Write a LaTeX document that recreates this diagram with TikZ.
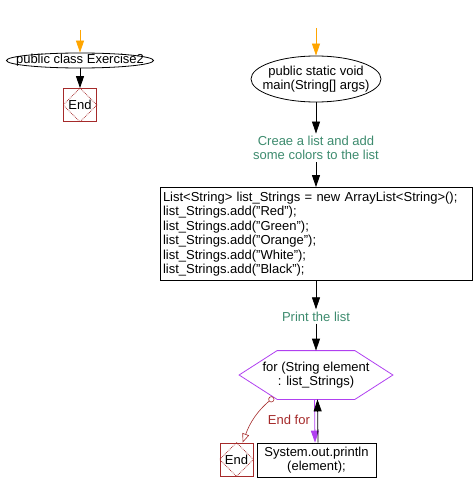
\documentclass[tikz,border=0pt]{standalone}
\usepackage{fontspec}
\setmainfont{Liberation Sans}
\usetikzlibrary{arrows.meta,shapes.geometric}
\definecolor{startorange}{HTML}{FFA500}
\definecolor{notegreen}{HTML}{3D8B6E}
\definecolor{endred}{HTML}{A52A2A}
\definecolor{loopviolet}{HTML}{B040F0}

\begin{document}
\begin{tikzpicture}[x=1pt,y=-1pt,line width=0.8pt,
	every node/.style={font=\fontsize{13}{14.5}\selectfont},
	startnode/.style={ellipse,draw,inner sep=0pt},
	endnode/.style={draw=endred,minimum size=33pt,inner sep=0pt},
	stmtnode/.style={draw,inner sep=3pt},
	notenode/.style={text=notegreen,align=center,inner sep=2pt},
	loopnode/.style={minimum width=153pt,minimum height=48pt,inner sep=0pt,align=center},
	flow/.style={-{Triangle[width=8pt,length=12pt]}},
	]
	\useasboundingbox (0,0) rectangle (474,492);
	% left column
		\coordinate (clsIn) at (80,30);
		\node[startnode,minimum width=147pt,minimum height=15pt,
			label=center:{public class Exercise2}] (cls) at (80,60.5) {};
		\node[endnode] (endA) at (80,105) {End};
	% right column
		\coordinate (mainIn) at (316,28);
		\node[startnode,minimum width=130pt,minimum height=46pt,
			label={[align=center]center:{public static void\\main(String[] args)}}] (main) at (316,79) {};
		\node[notenode] (noteList) at (316,148) {Creae a list and add\\some colors to the list};
		\node[stmtnode,minimum width=312pt,minimum height=93pt,text width=306pt,align=left] (list) at (316,234)
			{List<String> list\_Strings = new ArrayList<String>();\\
			list\_Strings.add("Red");\\
			list\_Strings.add("Green");\\
			list\_Strings.add("Orange");\\
			list\_Strings.add("White");\\
			list\_Strings.add("Black");};
		\node[notenode] (notePrint) at (316,316.5) {Print the list};
		\node[loopnode] (loop) at (316,375) {for (String element\\: list\_Strings)};
		\draw[loopviolet] (loop.west) -- ([xshift=38pt]loop.north west) -- ([xshift=-38pt]loop.north east)
			-- (loop.east) -- ([xshift=-38pt]loop.south east) -- ([xshift=38pt]loop.south west) -- cycle;
		\coordinate (loopOut) at ([xshift=34.5pt,yshift=2pt]loop.south west);
		\node[stmtnode,minimum width=119pt,minimum height=34pt,align=center] (print) at (316.5,460)
			{System.out.println\\(element);};
		\node[endnode] (endB) at (236.5,459.5) {End};
	% diamonds in the end boxes
		\foreach \e in {endA,endB}
			\draw[endred,densely dotted] (\e.north) -- (\e.east) -- (\e.south) -- (\e.west) -- cycle;
	% connectors
		\draw[flow,startorange] (clsIn) -- (cls);
		\draw[flow] (cls) -- (endA);
		\draw[flow,startorange] (mainIn) -- (main);
		\draw[flow] (main) -- (noteList);
		\draw[flow] (noteList) -- (list);
		\draw[flow] (list) -- (notePrint);
		\draw[flow] (notePrint) -- (loop);
		\draw[flow,loopviolet] ([xshift=-1.5pt]loop.south) -- ([xshift=-1.5pt]print.north);
		\draw[flow] ([xshift=1.5pt]print.north) -- ([xshift=1.5pt]loop.south);
		\draw[endred,line width=0.6pt,{Circle[open,length=6pt]}-{Triangle[open,width=7pt,length=9pt]}]
			(loopOut) to[out=220,in=70] node[pos=0.55,right=11pt] {End for} (endB.70);
\end{tikzpicture}
\end{document}
